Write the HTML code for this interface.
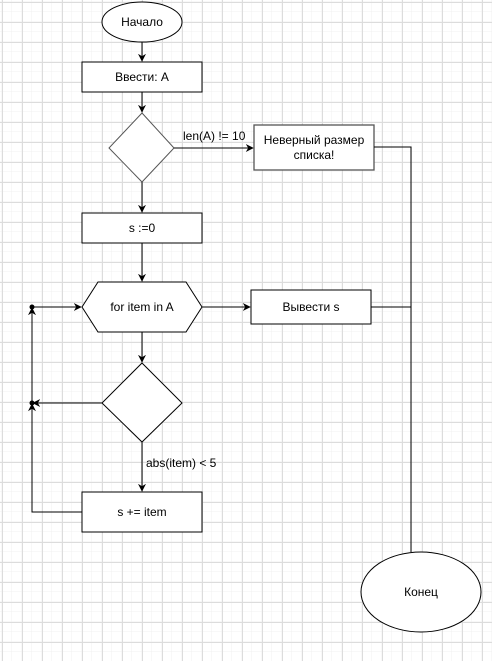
<!DOCTYPE html>
<html><head><meta charset="utf-8"><style>
html,body{margin:0;padding:0;background:#fff}
svg{display:block}
text{font-family:"Liberation Sans",Arial,sans-serif;font-size:12px;fill:#000}
</style></head><body>
<svg width="492" height="661" viewBox="0 0 492 661" xmlns="http://www.w3.org/2000/svg">
<defs>
<pattern id="g1" x="2" y="2" width="10" height="10" patternUnits="userSpaceOnUse"><path d="M10 0V10M0 10H10" stroke="#f0f0f0" stroke-width="1" fill="none"/></pattern>
<pattern id="g2" x="2" y="2" width="20" height="20" patternUnits="userSpaceOnUse"><path d="M0.5 0V20M0 0.5H20" stroke="#dcdcdc" stroke-width="1" fill="none"/></pattern>
<marker id="a" viewBox="0 0 10 10" refX="9" refY="5" markerWidth="8" markerHeight="8" orient="auto" markerUnits="userSpaceOnUse"><path d="M0 0L10 5L0 10L3 5Z" fill="#000"/></marker>
</defs>
<rect width="492" height="661" fill="url(#g1)"/>
<rect width="492" height="661" fill="url(#g2)"/>
<g fill="#fff" stroke="#000" stroke-width="1">
<ellipse cx="142" cy="22" rx="40" ry="20"/>
<rect x="82" y="62" width="120" height="30"/>
<polygon points="142,113 174,148 142,182 109,148" stroke="#555"/>
<rect x="254" y="125" width="120" height="45" stroke="#555" stroke-width="1.3"/>
<rect x="82" y="213" width="120" height="30"/>
<polygon points="98,282 186,282 202,307 186,332 98,332 82,307"/>
<rect x="251" y="290" width="120" height="34"/>
<polygon points="142,363 182,403 142,442 102,403"/>
<rect x="82" y="492" width="120" height="40"/>
<ellipse cx="421" cy="592" rx="60" ry="40"/>
</g>
<g stroke="#000" stroke-width="1" fill="none">
<line x1="142" y1="42" x2="142" y2="61" marker-end="url(#a)"/>
<line x1="142" y1="92" x2="142" y2="112" marker-end="url(#a)"/>
<line x1="174" y1="148" x2="253" y2="148" marker-end="url(#a)"/>
<line x1="142" y1="182" x2="142" y2="212" marker-end="url(#a)"/>
<line x1="142" y1="243" x2="142" y2="281" marker-end="url(#a)"/>
<line x1="202" y1="307" x2="250" y2="307" marker-end="url(#a)"/>
<line x1="142" y1="332" x2="142" y2="362" marker-end="url(#a)"/>
<line x1="142" y1="442" x2="142" y2="491" marker-end="url(#a)"/>
<polyline points="374,147 411,147 411,552"/>
<line x1="371" y1="307" x2="411" y2="307"/>
<polyline points="82,512 32,512 32,404" marker-end="url(#a)"/>
<line x1="102" y1="403" x2="33" y2="403" marker-end="url(#a)"/>
<line x1="32" y1="403" x2="32" y2="308" marker-end="url(#a)"/>
<line x1="32" y1="307" x2="81" y2="307" marker-end="url(#a)"/>
</g>
<circle cx="32" cy="307" r="2.5" fill="#000"/>
<circle cx="32" cy="403" r="2.5" fill="#000"/>
<text x="142" y="26" text-anchor="middle">Начало</text>
<text x="142" y="81" text-anchor="middle">Ввести: A</text>
<text x="183" y="140">len(A) != 10</text>
<text x="314" y="144" text-anchor="middle">Неверный размер</text>
<text x="314" y="159" text-anchor="middle">списка!</text>
<text x="142" y="232" text-anchor="middle">s :=0</text>
<text x="142" y="311" text-anchor="middle">for item in A</text>
<text x="311" y="311" text-anchor="middle">Вывести s</text>
<text x="146" y="467">abs(item) &lt; 5</text>
<text x="142" y="516" text-anchor="middle">s += item</text>
<text x="421" y="596" text-anchor="middle">Конец</text>
</svg>
</body></html>
